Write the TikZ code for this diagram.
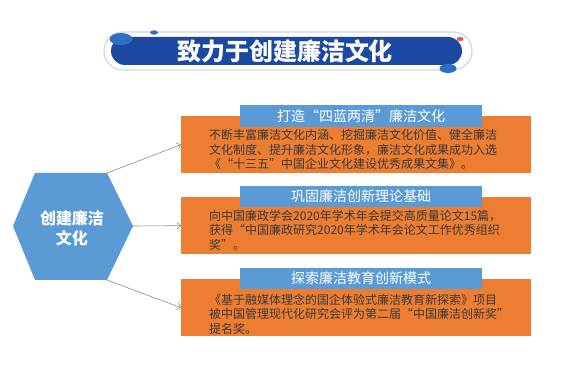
\documentclass[tikz,border=0pt]{standalone}
\usepackage{fontspec}
\setmainfont{Noto Sans CJK SC}
\usetikzlibrary{arrows.meta}
\definecolor{orangebox}{HTML}{ED7D31}
\definecolor{bluebox}{HTML}{5B9BD5}
\definecolor{darkpill}{HTML}{1B48A0}
\definecolor{blobblue}{HTML}{2F6FC2}
\definecolor{pilledge}{HTML}{CCD8E8}
\definecolor{reddot}{HTML}{E8524A}
\definecolor{bodytext}{HTML}{3A3A3A}
\definecolor{linkgray}{HTML}{8C8C8C}
\tikzset{
  orangepanel/.style={fill=orangebox, draw=none, anchor=north west, minimum width=350pt, minimum height=57pt, inner sep=0pt},
  bluetitle/.style={fill=bluebox, draw=none, minimum width=242pt, minimum height=21.5pt, inner sep=0pt, text=white, font=\fontsize{14}{16}\selectfont},
  bodynode/.style={anchor=west, align=left, inner sep=0pt, text=bodytext, font=\fontsize{12}{14.6}\selectfont},
  link/.style={draw=linkgray, line width=0.6pt, -{Straight Barb[length=3.5pt,width=6.5pt,line width=0.6pt]}},
  blob/.style={fill=blobblue, draw=none}
}
\begin{document}
\begin{tikzpicture}[x=1pt,y=-1pt]
\useasboundingbox[fill=white] (0,0) rectangle (571,371);

% banner
\draw[pilledge, line width=1.2pt, fill=white, rounded corners=19pt] (104,32) rectangle (472,70);
\fill[darkpill, rounded corners=14pt] (111,37) rectangle (462,65);
\fill[blob] (121,39) ellipse [x radius=11.5pt, y radius=6pt];
\fill[blob] (154,32.5) ellipse [x radius=4pt, y radius=2.2pt];
\fill[blob] (448,68.5) ellipse [x radius=8.5pt, y radius=4.5pt];
\fill[reddot] (460,39) ellipse [x radius=3.5pt, y radius=2pt];
\node[text=white, font=\fontsize{24}{28}\selectfont\bfseries] (title) at (285,51.5) {致力于创建廉洁文化};

% hexagon
\coordinate (hL) at (13,226);
\coordinate (hTL) at (35,173);
\coordinate (hTR) at (107,173);
\coordinate (hR) at (133,226);
\coordinate (hBR) at (107,280);
\coordinate (hBL) at (35,280);
\fill[bluebox] (hL) -- (hTL) -- (hTR) -- (hR) -- (hBR) -- (hBL) -- cycle;
\node[text=white, align=center, font=\fontsize{16}{20}\selectfont\bfseries] (hex) at (72,228) {创建廉洁\\文化};

% panels
\node[orangepanel] (box1) at (181,116) {};
\node[orangepanel] (box2) at (181,197) {};
\node[orangepanel] (box3) at (181,279) {};

\node[bluetitle] (t1) at (361,116) {打造“四蓝两清”廉洁文化};
\node[bluetitle] (t2) at (361,196.5) {巩固廉洁创新理论基础};
\node[bluetitle] (t3) at (361,278.5) {探索廉洁教育创新模式};

\node[bodynode] (b1) at (209,149.5) {不断丰富廉洁文化内涵、挖掘廉洁文化价值、健全廉洁\\文化制度、提升廉洁文化形象，廉洁文化成果成功入选\\《“十三五”中国企业文化建设优秀成果文集》。};
\node[bodynode] (b2) at (209,230) {向中国廉政学会2020年学术年会提交高质量论文15篇，\\获得“中国廉政研究2020年学术年会论文工作优秀组织\\奖”。};
\node[bodynode] (b3) at (209,314) {《基于融媒体理念的国企体验式廉洁教育新探索》项目\\被中国管理现代化研究会评为第二届“中国廉洁创新奖”\\提名奖。};

% connectors
\draw[link] (hTR) -- (box1.west);
\draw[link] (hR) -- (box2.west);
\draw[link] (hBR) -- (box3.west);
\end{tikzpicture}
\end{document}
